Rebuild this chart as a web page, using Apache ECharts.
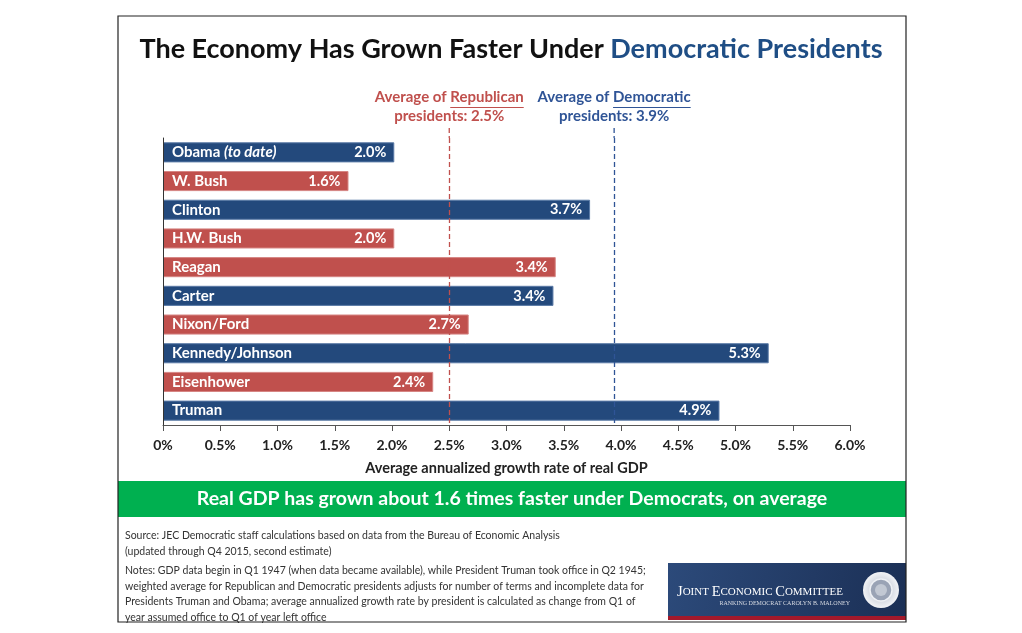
<!DOCTYPE html>
<html>
<head>
<meta charset="utf-8">
<script src="https://cdn.jsdelivr.net/npm/echarts@6/dist/echarts.min.js"></script>
<style>
html,body{margin:0;padding:0;background:#fff;}
#ech{width:1022px;height:633px;}
</style>
</head>
<body>
<div id="ech"></div>
<script>
// data (top to bottom)
var presidents = ['Obama', 'W. Bush', 'Clinton', 'H.W. Bush', 'Reagan', 'Carter', 'Nixon/Ford', 'Kennedy/Johnson', 'Eisenhower', 'Truman'];
var growth = [2.02, 1.62, 3.73, 2.02, 3.43, 3.41, 2.67, 5.29, 2.36, 4.86];
var party = ['D', 'R', 'D', 'R', 'R', 'D', 'R', 'D', 'R', 'D'];
var averages = [
    {name: 'Republican', value: 2.5, label: '2.5%'},
    {name: 'Democratic', value: 3.94, label: '3.9%'}
];
var axisMin = 0, axisMax = 6, axisStep = 0.5;

var FONT = 'Lato, "Open Sans", sans-serif';
var BLUE = '#23497c', RED = '#c0504d', AVG_BLUE = '#2f5496';

var ownChart = echarts.init(document.getElementById('ech'));

var option = {
    animation: false,
    backgroundColor: '#fff',
    title: {
        left: 'center',
        top: 31,
        text: '{a|The Economy Has Grown Faster Under }{b|Democratic Presidents}',
        textStyle: {
            rich: {
                a: {fontFamily: FONT, fontSize: 27, fontWeight: 'bold', color: '#111'},
                b: {fontFamily: FONT, fontSize: 27, fontWeight: 'bold', color: '#1f4e85'}
            }
        }
    },
    grid: {left: 163, right: 172, top: 138, bottom: 208},
    xAxis: {
        type: 'value',
        min: axisMin,
        max: axisMax,
        interval: axisStep,
        splitLine: {show: false},
        axisLine: {show: true, lineStyle: {color: '#555', width: 1}},
        axisTick: {show: true, length: 6, lineStyle: {color: '#555'}},
        axisLabel: {
            margin: 13,
            fontFamily: FONT, fontSize: 14, fontWeight: 'bold', color: '#222',
            formatter: function (v) { return v === 0 ? '0%' : v.toFixed(1) + '%'; }
        },
        name: 'Average annualized growth rate of real GDP',
        nameLocation: 'middle',
        nameGap: 36,
        nameTextStyle: {fontFamily: FONT, fontSize: 14.5, fontWeight: 'bold', color: '#222'}
    },
    yAxis: {
        type: 'category',
        data: presidents,
        inverse: true,
        z: 10,
        axisLine: {show: true, lineStyle: {color: '#333', width: 1}},
        axisTick: {show: false},
        axisLabel: {
            inside: true,
            margin: 9,
            fontFamily: FONT, fontSize: 15, fontWeight: 'bold', color: '#fff',
            formatter: function (v) {
                return v === 'Obama' ? '{n|Obama }{i|(to date)}' : '{n|' + v + '}';
            },
            rich: {
                n: {fontFamily: FONT, fontSize: 15, fontWeight: 'bold', color: '#fff'},
                i: {fontFamily: FONT, fontSize: 15, fontWeight: 'bold', fontStyle: 'italic', color: '#fff'}
            }
        }
    },
    series: [{
        type: 'bar',
        barWidth: '70%',
        data: growth.map(function (v, i) {
            return {
                value: v,
                itemStyle: {
                    color: party[i] === 'D' ? BLUE : RED,
                    borderColor: party[i] === 'D' ? '#5a7aa6' : '#d68583',
                    borderWidth: 1
                }
            };
        }),
        label: {
            show: true,
            position: 'insideRight',
            distance: 8,
            fontFamily: FONT, fontSize: 14.5, fontWeight: 'bold', color: '#fff',
            formatter: function (p) { return p.value.toFixed(1) + '%'; }
        },
        markLine: {
            silent: true,
            symbol: 'none',
            label: {show: false},
            data: averages.map(function (a) {
                return {
                    xAxis: a.value,
                    lineStyle: {color: a.name === 'Republican' ? RED : AVG_BLUE, type: [5, 3], width: 1.3}
                };
            })
        }
    }]
};
ownChart.setOption(option);

// annotations, frame, banner and footer
function textWidth(str, font) {
    var c = document.createElement('canvas').getContext('2d');
    c.font = font;
    return c.measureText(str).width;
}

var gridTop = 138;
var graphics = [];
averages.forEach(function (a) {
    var x = ownChart.convertToPixel({xAxisIndex: 0}, a.value);
    var col = a.name === 'Republican' ? RED : AVG_BLUE;
    var f = 'bold 15px ' + FONT;
    var w1 = textWidth('Average of ', f), w2 = textWidth(a.name, f);
    var left = x - (w1 + w2) / 2;
    graphics.push(
        {type: 'text', left: left, top: 90, style: {text: 'Average of ', font: f, fill: col}},
        {type: 'text', left: left + w1, top: 90, style: {text: a.name, font: f, fill: col}},
        {type: 'line', shape: {x1: left + w1, y1: 107.5, x2: left + w1 + w2, y2: 107.5}, style: {stroke: col, lineWidth: 1}},
        {type: 'text', x: x, y: 109, style: {text: 'presidents: ' + a.label, font: f, fill: col, textAlign: 'center'}},
        {type: 'line', shape: {x1: x, y1: 128, x2: x, y2: gridTop}, style: {stroke: col, lineWidth: 1.3, lineDash: [5, 3]}}
    );
});

var small = '10.5px ' + FONT;
graphics.push(
    {type: 'rect', shape: {x: 118, y: 16, width: 788, height: 606}, style: {fill: 'none', stroke: '#222', lineWidth: 1.2}, z: 20},
    {type: 'rect', shape: {x: 118, y: 481, width: 788, height: 36}, style: {fill: '#00b050'}},
    {type: 'text', x: 512, y: 499, style: {text: 'Real GDP has grown about 1.6 times faster under Democrats, on average',
        font: 'bold 19.5px ' + FONT, fill: '#fff', textAlign: 'center', textVerticalAlign: 'middle'}},
    {type: 'text', left: 125, top: 528, style: {text: 'Source: JEC Democratic staff calculations based on data from the Bureau of Economic Analysis\n(updated through Q4 2015, second estimate)',
        font: small, fill: '#333', lineHeight: 16}},
    {type: 'text', left: 125, top: 563, style: {text: 'Notes: GDP data begin in Q1 1947 (when data became available), while President Truman took office in Q2 1945;\nweighted average for Republican and Democratic presidents adjusts for number of terms and incomplete data for\nPresidents Truman and Obama; average annualized growth rate by president is calculated as change from Q1 of\nyear assumed office to Q1 of year left office',
        font: small, fill: '#333', lineHeight: 15.5}},
    // committee logo
    {type: 'rect', shape: {x: 668, y: 563, width: 238, height: 55},
        style: {fill: new echarts.graphic.LinearGradient(0, 0, 1, 1, [{offset: 0, color: '#2c4a7a'}, {offset: 1, color: '#1b2f55'}])}},
    {type: 'rect', shape: {x: 668, y: 616, width: 238, height: 4}, style: {fill: '#a3192b'}},
    {type: 'text', left: 677, top: 585, style: {text: '{a|J}{b|OINT }{a|E}{b|CONOMIC }{a|C}{b|OMMITTEE}', rich: {
        a: {font: '14.5px "Liberation Serif", serif', fill: '#fff'},
        b: {font: '11px "Liberation Serif", serif', fill: '#fff'}
    }}},
    {type: 'text', x: 850, y: 600, style: {text: 'RANKING DEMOCRAT CAROLYN B. MALONEY', font: '6px "Liberation Serif", serif', fill: '#d8dbe3', textAlign: 'right'}},
    {type: 'circle', shape: {cx: 881, cy: 590, r: 18},
        style: {fill: new echarts.graphic.RadialGradient(0.5, 0.5, 0.5, [{offset: 0, color: '#b4bac6'}, {offset: 0.6, color: '#d6dae2'}, {offset: 1, color: '#f2f3f6'}])}},
    {type: 'circle', shape: {cx: 881, cy: 590, r: 11}, style: {fill: '#9aa3b5', stroke: '#eef0f4', lineWidth: 1.5}},
    {type: 'circle', shape: {cx: 881, cy: 590, r: 6}, style: {fill: '#c2c8d3'}}
);
ownChart.setOption({graphic: graphics});
</script>
</body>
</html>
